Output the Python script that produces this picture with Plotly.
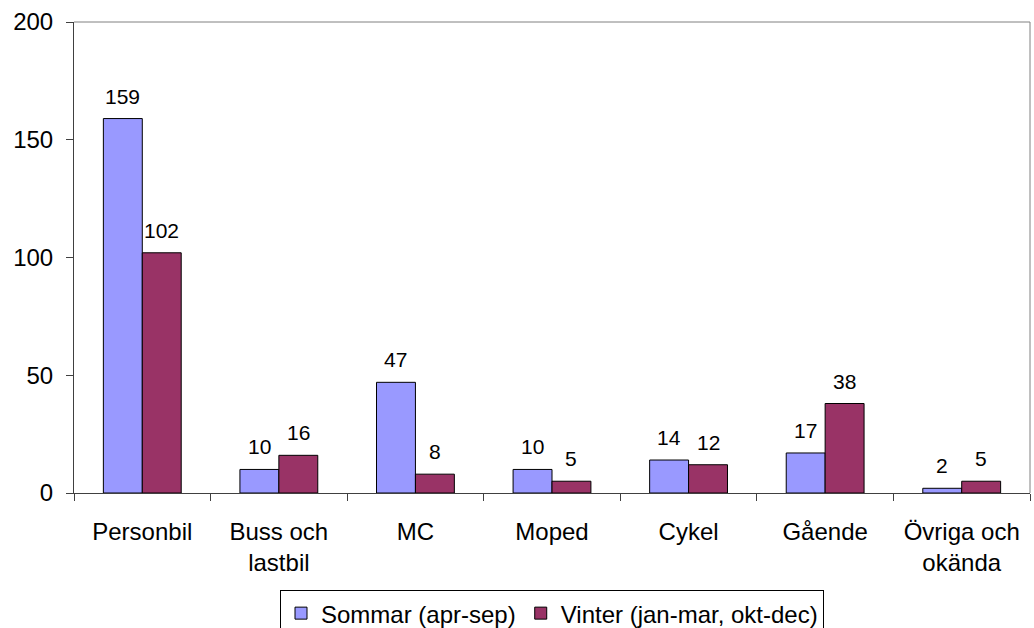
import plotly.graph_objects as go

categories = ["Personbil", "Buss och<br>lastbil", "MC", "Moped", "Cykel", "Gående", "Övriga och<br>okända"]
sommar = [159, 10, 47, 10, 14, 17, 2]
vinter = [102, 16, 8, 5, 12, 38, 5]
series_names = ["Sommar (apr-sep)", "Vinter (jan-mar, okt-dec)"]
y_ticks = [0, 50, 100, 150, 200]

FONT = "Liberation Sans, Arial, sans-serif"
W, H = 1034, 628
ML, MR, MT, MB = 74, 4, 22, 135
BARGAP = 0.43

fig = go.Figure()
colors = ["#9999FF", "#993366"]
for name, vals, color in zip(series_names, [sommar, vinter], colors):
    fig.add_trace(go.Bar(
        x=categories, y=vals, name=name,
        marker=dict(color=color, line=dict(color="black", width=1)),
        hoverinfo="x+y+name",
    ))

# data labels above each bar
cat_px = (W - ML - MR) / len(categories)
bar_px = cat_px * (1 - BARGAP) / 2
for si, vals in enumerate([sommar, vinter]):
    shift = (-0.5 if si == 0 else 0.5) * bar_px
    for c, v in zip(categories, vals):
        fig.add_annotation(
            x=c, y=v, xref="x", yref="y", text=str(v), showarrow=False,
            xanchor="center", yanchor="bottom", xshift=shift, yshift=9,
            font=dict(family=FONT, size=21, color="black"),
        )

fig.update_layout(
    width=W, height=H,
    margin=dict(l=ML, r=MR, t=MT, b=MB, autoexpand=False),
    paper_bgcolor="white", plot_bgcolor="white",
    barmode="group", bargap=BARGAP, bargroupgap=0,
    font=dict(family=FONT, size=24, color="black"),
    showlegend=True,
    legend=dict(
        orientation="h", x=0.5, xanchor="center", y=-0.206, yanchor="top",
        bordercolor="black", borderwidth=1, bgcolor="white",
        font=dict(family=FONT, size=24, color="black"),
        itemwidth=30, traceorder="normal",
    ),
    xaxis=dict(
        type="category", showline=True, linecolor="#404040", linewidth=1,
        ticks="outside", tickson="boundaries", ticklen=7, tickcolor="#404040",
        showgrid=False, tickfont=dict(family=FONT, size=24, color="black"),
        ticklabelstandoff=17, automargin=False,
    ),
    yaxis=dict(
        range=[0, 200], tickvals=y_ticks, showline=True, linecolor="#404040", linewidth=1,
        ticks="outside", ticklen=7, tickcolor="#404040", showgrid=False, zeroline=False,
        tickfont=dict(family=FONT, size=24, color="black"),
        ticklabelstandoff=8, automargin=False,
    ),
)

fig.add_shape(type="line", xref="paper", yref="paper", x0=0, x1=1, y0=1, y1=1,
              line=dict(color="#808080", width=1))
fig.add_shape(type="line", xref="paper", yref="paper", x0=1, x1=1, y0=0, y1=1,
              line=dict(color="#808080", width=1))

fig.write_html(
    "out.html",
    config={"displayModeBar": False},
    post_script="document.body.style.margin='0';document.body.style.overflow='hidden';",
)
